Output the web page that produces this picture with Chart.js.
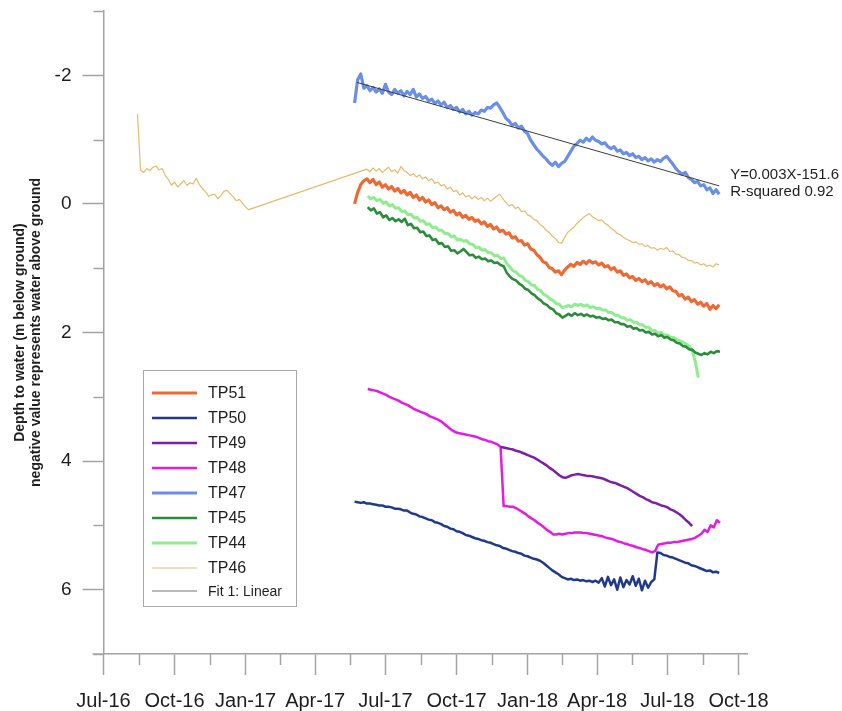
<!DOCTYPE html>
<html>
<head>
<meta charset="utf-8">
<title>Depth to water</title>
<script src="https://cdn.jsdelivr.net/npm/chart.js@4.4.1/dist/chart.umd.min.js"></script>
<style>
  html, body { margin: 0; padding: 0; background: #ffffff; }
  canvas { display: block; }
</style>
</head>
<body>
<canvas id="chart" width="842" height="711"></canvas>
<script>
// ---- data -----------------------------------------------------------------
// Logger readings, one value every SAMPLE_STEP_DAYS days from each start date.
// Depth to water in metres below ground (negative = above ground).
const SAMPLE_STEP_DAYS = 4;

const tp51Start = '2017-05-22';
const tp51Values = [
  0.00,-0.18,-0.30,-0.36,-0.39,-0.33,-0.38,-0.30,-0.34,-0.26,
  -0.30,-0.23,-0.27,-0.20,-0.24,-0.17,-0.21,-0.14,-0.18,-0.10,
  -0.14,-0.06,-0.10,-0.03,-0.06,0.01,-0.02,0.06,0.03,0.09,
  0.06,0.13,0.10,0.17,0.14,0.21,0.18,0.24,0.21,0.27,
  0.25,0.31,0.28,0.35,0.32,0.39,0.36,0.43,0.41,0.47,
  0.45,0.53,0.51,0.58,0.57,0.64,0.62,0.70,0.72,0.79,
  0.83,0.90,0.92,0.99,1.01,1.06,1.04,1.10,1.03,0.98,
  0.94,0.97,0.91,0.94,0.89,0.93,0.88,0.92,0.90,0.95,
  0.92,0.98,0.96,1.02,0.99,1.06,1.04,1.11,1.09,1.15,
  1.13,1.19,1.16,1.21,1.18,1.24,1.21,1.27,1.24,1.29,
  1.26,1.32,1.29,1.35,1.36,1.43,1.41,1.48,1.45,1.52,
  1.49,1.56,1.53,1.59,1.55,1.64,1.58,1.63,1.57
];

const tp50Start = '2017-05-22';
const tp50Values = [
  4.63,4.64,4.65,4.64,4.66,4.66,4.67,4.68,4.69,4.69,
  4.71,4.71,4.72,4.74,4.74,4.75,4.77,4.77,4.80,4.82,
  4.83,4.86,4.87,4.89,4.91,4.92,4.95,4.96,4.98,5.01,
  5.02,5.05,5.06,5.09,5.10,5.12,5.15,5.16,5.18,5.20,
  5.21,5.23,5.24,5.26,5.27,5.29,5.31,5.32,5.35,5.36,
  5.38,5.40,5.41,5.43,5.44,5.47,5.48,5.50,5.52,5.53,
  5.55,5.58,5.62,5.66,5.70,5.73,5.76,5.80,5.82,5.84,
  5.83,5.85,5.84,5.86,5.85,5.87,5.86,5.88,5.86,5.89,
  5.82,5.95,5.80,5.93,5.84,6.00,5.81,5.96,5.85,5.92,
  5.79,5.94,5.83,6.01,5.86,5.97,5.88,5.84,5.42,5.43,
  5.46,5.47,5.49,5.50,5.52,5.54,5.56,5.58,5.59,5.62,
  5.63,5.65,5.67,5.69,5.71,5.70,5.73,5.72,5.74
];

const tp49Start = '2017-11-27';
const tp49Values = [
  3.78,3.79,3.80,3.81,3.82,3.84,3.85,3.87,3.89,3.91,
  3.93,3.95,3.98,4.01,4.04,4.07,4.11,4.14,4.18,4.22,
  4.25,4.26,4.24,4.22,4.21,4.20,4.21,4.22,4.23,4.23,
  4.24,4.25,4.26,4.27,4.29,4.31,4.33,4.34,4.36,4.38,
  4.40,4.42,4.45,4.48,4.51,4.54,4.56,4.59,4.61,4.64,
  4.65,4.67,4.69,4.70,4.72,4.75,4.77,4.80,4.83,4.87,
  4.92,4.96,5.01
];

const tp48Start = '2017-06-08';
const tp48Values = [
  2.88,2.89,2.90,2.91,2.93,2.95,2.97,3.00,3.02,3.04,
  3.06,3.09,3.11,3.13,3.16,3.19,3.21,3.23,3.25,3.27,
  3.30,3.32,3.34,3.36,3.39,3.43,3.47,3.51,3.54,3.56,
  3.57,3.58,3.59,3.60,3.61,3.62,3.64,3.66,3.67,3.69,
  3.70,3.72,3.74,3.78,4.70,4.70,4.71,4.71,4.73,4.76,
  4.79,4.82,4.86,4.89,4.92,4.96,4.99,5.03,5.07,5.10,
  5.14,5.14,5.13,5.14,5.13,5.12,5.12,5.11,5.11,5.11,
  5.12,5.12,5.13,5.14,5.15,5.16,5.17,5.19,5.20,5.21,
  5.23,5.25,5.26,5.28,5.29,5.31,5.32,5.34,5.35,5.37,
  5.38,5.40,5.42,5.40,5.30,5.29,5.28,5.27,5.27,5.26,
  5.26,5.25,5.24,5.23,5.22,5.21,5.19,5.16,5.13,5.07,
  5.10,5.00,5.03,4.92,4.96
];

const tp47Start = '2017-05-22';
const tp47Values = [
  -1.57,-1.93,-2.02,-1.80,-1.84,-1.76,-1.81,-1.74,-1.79,-1.72,
  -1.86,-1.74,-1.70,-1.78,-1.72,-1.76,-1.68,-1.75,-1.70,-1.78,
  -1.66,-1.71,-1.64,-1.67,-1.60,-1.63,-1.56,-1.60,-1.54,-1.58,
  -1.50,-1.53,-1.47,-1.50,-1.43,-1.47,-1.40,-1.44,-1.38,-1.42,
  -1.40,-1.46,-1.44,-1.50,-1.49,-1.54,-1.57,-1.50,-1.42,-1.33,
  -1.29,-1.22,-1.25,-1.18,-1.21,-1.13,-1.09,-0.99,-0.92,-0.85,
  -0.80,-0.74,-0.70,-0.64,-0.60,-0.65,-0.58,-0.63,-0.66,-0.74,
  -0.82,-0.90,-0.94,-0.99,-0.96,-1.02,-0.98,-1.04,-0.99,-0.97,
  -0.93,-0.95,-0.89,-0.86,-0.89,-0.82,-0.84,-0.78,-0.80,-0.75,
  -0.78,-0.72,-0.74,-0.69,-0.72,-0.67,-0.70,-0.65,-0.69,-0.66,
  -0.71,-0.74,-0.68,-0.62,-0.55,-0.50,-0.46,-0.49,-0.41,-0.38,
  -0.33,-0.35,-0.28,-0.30,-0.22,-0.25,-0.16,-0.22,-0.15
];

const tp45Start = '2017-06-08';
const tp45Values = [
  0.05,0.10,0.07,0.15,0.13,0.21,0.18,0.25,0.22,0.27,
  0.24,0.28,0.23,0.33,0.31,0.38,0.37,0.44,0.43,0.50,
  0.49,0.56,0.55,0.62,0.61,0.67,0.66,0.73,0.72,0.77,
  0.74,0.70,0.75,0.80,0.79,0.84,0.82,0.86,0.85,0.89,
  0.88,0.92,0.91,0.95,0.97,1.07,1.13,1.17,1.19,1.24,
  1.27,1.32,1.34,1.39,1.42,1.47,1.50,1.55,1.57,1.62,
  1.64,1.70,1.72,1.77,1.74,1.71,1.74,1.70,1.73,1.71,
  1.74,1.72,1.75,1.74,1.77,1.76,1.79,1.78,1.81,1.80,
  1.84,1.84,1.87,1.87,1.91,1.90,1.94,1.93,1.97,1.96,
  2.00,1.99,2.03,2.02,2.06,2.04,2.08,2.07,2.11,2.12,
  2.16,2.17,2.21,2.22,2.26,2.27,2.31,2.33,2.35,2.32,
  2.34,2.30,2.32,2.29,2.30
];

const tp44Start = '2017-06-08';
const tp44Values = [
  -0.12,-0.08,-0.10,-0.05,-0.07,-0.01,-0.03,0.03,0.01,0.07,
  0.06,0.12,0.11,0.17,0.16,0.22,0.21,0.27,0.26,0.32,
  0.31,0.37,0.36,0.41,0.41,0.46,0.46,0.51,0.50,0.56,
  0.55,0.58,0.57,0.62,0.63,0.68,0.67,0.72,0.71,0.76,
  0.76,0.81,0.80,0.85,0.84,0.93,0.98,1.04,1.06,1.11,
  1.13,1.19,1.21,1.26,1.27,1.33,1.35,1.41,1.43,1.48,
  1.50,1.55,1.56,1.61,1.60,1.58,1.60,1.56,1.58,1.56,
  1.59,1.57,1.61,1.60,1.63,1.62,1.65,1.65,1.69,1.69,
  1.73,1.73,1.77,1.77,1.81,1.80,1.84,1.84,1.88,1.88,
  1.92,1.92,1.97,1.97,2.01,2.00,2.04,2.04,2.07,2.08,
  2.11,2.13,2.15,2.18,2.21,2.27,2.45,2.70
];

// TP46 has two logging periods; the line simply joins them across the gap.
const tp46EarlyStart = '2016-08-14';
const tp46EarlyValues = [
  -1.40,-0.52,-0.49,-0.55,-0.52,-0.57,-0.59,-0.53,-0.55,-0.44,
  -0.38,-0.29,-0.34,-0.26,-0.31,-0.36,-0.29,-0.33,-0.31,-0.40,
  -0.30,-0.24,-0.19,-0.12,-0.14,-0.15,-0.08,-0.13,-0.20,-0.21,
  -0.16,-0.11,-0.05,-0.07,-0.01,0.05,0.09
];
const tp46LateStart = '2017-06-07';
const tp46LateValues = [
  -0.54,-0.50,-0.56,-0.51,-0.55,-0.49,-0.53,-0.57,-0.50,-0.53,
  -0.48,-0.58,-0.52,-0.49,-0.44,-0.47,-0.42,-0.45,-0.39,-0.42,
  -0.36,-0.39,-0.32,-0.34,-0.28,-0.30,-0.23,-0.26,-0.19,-0.21,
  -0.14,-0.17,-0.11,-0.13,-0.08,-0.12,-0.07,-0.10,-0.05,-0.09,
  -0.04,-0.08,-0.12,-0.15,-0.08,-0.02,0.03,0.01,0.07,0.05,
  0.12,0.11,0.17,0.19,0.24,0.26,0.32,0.35,0.41,0.44,
  0.50,0.54,0.60,0.61,0.52,0.44,0.40,0.36,0.30,0.26,
  0.21,0.18,0.15,0.20,0.23,0.26,0.25,0.30,0.33,0.38,
  0.41,0.46,0.48,0.52,0.55,0.57,0.60,0.59,0.63,0.62,
  0.66,0.65,0.69,0.68,0.72,0.69,0.71,0.68,0.74,0.73,
  0.78,0.79,0.83,0.84,0.88,0.88,0.92,0.91,0.95,0.93,
  0.97,0.95,0.98,0.93,0.95
];

// Linear fit through TP47 (end points of the fitted line)
const fitDates = ['2017-05-25', '2018-09-06'];
const fitValues = [-1.89, -0.28];
const fitEquation = 'Y=0.003X-151.6';
const fitRSquared = 'R-squared 0.92';

// Axis ticks
const xTickDates = ['2016-07-01','2016-10-01','2017-01-01','2017-04-01','2017-07-01',
                    '2017-10-01','2018-01-01','2018-04-01','2018-07-01','2018-10-01'];
const xTickLabels = ['Jul-16','Oct-16','Jan-17','Apr-17','Jul-17',
                     'Oct-17','Jan-18','Apr-18','Jul-18','Oct-18'];
const yTickValues = [-2, 0, 2, 4, 6];
const yMinorTickValues = [-3, -1, 1, 3, 5, 7];

// ---- helpers ----------------------------------------------------------------
const ORIGIN = Date.UTC(2016, 6, 1);
function dayOf(s) {
  const [y, m, d] = s.split('-').map(Number);
  return (Date.UTC(y, m - 1, d) - ORIGIN) / 86400000;
}
function toPoints(start, values) {
  const d0 = dayOf(start);
  return values.map((v, i) => ({ x: d0 + i * SAMPLE_STEP_DAYS, y: v }));
}

const FONT = "'Liberation Sans', Arial, Helvetica, sans-serif";
const AXIS_GREY = '#a3a3a3';
const TEXT = '#1e1e1e';

function series(label, points, color, width) {
  return {
    label, data: points, borderColor: color, backgroundColor: color,
    borderWidth: width, pointRadius: 0, tension: 0, fill: false,
    borderJoinStyle: 'round', borderCapStyle: 'butt'
  };
}

const datasets = [
  series('TP51', toPoints(tp51Start, tp51Values), '#ee6a35', 3.2),
  series('TP50', toPoints(tp50Start, tp50Values), '#1f3a8a', 2.5),
  series('TP49', toPoints(tp49Start, tp49Values), '#7a1fa6', 2.5),
  series('TP48', toPoints(tp48Start, tp48Values), '#e31be3', 2.5),
  series('TP47', toPoints(tp47Start, tp47Values), '#6b8fe6', 3.2),
  series('TP45', toPoints(tp45Start, tp45Values), '#2b8c3b', 2.6),
  series('TP44', toPoints(tp44Start, tp44Values), '#8fec8f', 3.0),
  series('TP46', toPoints(tp46EarlyStart, tp46EarlyValues)
                   .concat(toPoints(tp46LateStart, tp46LateValues)), '#e8b96e', 1.2),
  Object.assign(series('Fit 1: Linear',
    fitDates.map((d, i) => ({ x: dayOf(d), y: fitValues[i] })), '#3c3c3c', 1), { order: -1 })
];

// Minor ticks, the short stub of the date axis left of the depth axis,
// and the fit annotation.
const axisDecor = {
  id: 'axisDecor',
  afterDraw(chart) {
    const { ctx, chartArea: ca } = chart;
    const xs = chart.scales.x, ys = chart.scales.y;
    ctx.save();
    ctx.strokeStyle = AXIS_GREY;
    ctx.lineWidth = 1.5;
    ctx.beginPath();
    for (let i = 0; i < xTickDates.length - 1; i++) {
      const mid = (dayOf(xTickDates[i]) + dayOf(xTickDates[i + 1])) / 2;
      const px = Math.round(xs.getPixelForValue(mid)) + 0.5;
      ctx.moveTo(px, ca.bottom); ctx.lineTo(px, ca.bottom + 11);
    }
    yMinorTickValues.forEach(v => {
      const py = Math.round(ys.getPixelForValue(v)) + 0.5;
      ctx.moveTo(ca.left - 10, py); ctx.lineTo(ca.left, py);
    });
    ctx.moveTo(ca.left - 11, ca.bottom); ctx.lineTo(ca.left, ca.bottom);
    ctx.stroke();

    // fit equation next to the end of the fitted line
    const ex = xs.getPixelForValue(dayOf(fitDates[1]));
    const ey = ys.getPixelForValue(fitValues[1]);
    ctx.fillStyle = TEXT;
    ctx.font = '15px ' + FONT;
    ctx.textAlign = 'left';
    ctx.textBaseline = 'middle';
    ctx.fillText(fitEquation, ex + 11, ey - 11);
    ctx.fillText(fitRSquared, ex + 11, ey + 6);
    ctx.restore();
  }
};

// Boxed legend inside the plot area
const boxLegend = {
  id: 'boxLegend',
  afterDraw(chart) {
    const { ctx } = chart;
    const box = { x: 143.5, y: 370.5, w: 153, h: 236 };
    ctx.save();
    ctx.fillStyle = '#ffffff';
    ctx.fillRect(box.x, box.y, box.w, box.h);
    ctx.strokeStyle = '#a8a8a8';
    ctx.lineWidth = 1;
    ctx.strokeRect(box.x, box.y, box.w, box.h);
    const rows = [393, 418, 443, 468, 493, 518, 543, 568, 591];
    chart.data.datasets.forEach((ds, i) => {
      const y = rows[i];
      const isFit = i === chart.data.datasets.length - 1;
      ctx.strokeStyle = isFit ? '#777777' : ds.borderColor;
      ctx.lineWidth = isFit ? 1.2 : Math.min(ds.borderWidth, 3);
      ctx.beginPath();
      ctx.moveTo(152, y); ctx.lineTo(197, y);
      ctx.stroke();
      ctx.fillStyle = TEXT;
      ctx.font = (isFit ? '14px ' : '16px ') + FONT;
      ctx.textAlign = 'left';
      ctx.textBaseline = 'middle';
      ctx.fillText(ds.label, 208, y + 1);
    });
    ctx.restore();
  }
};

new Chart(document.getElementById('chart'), {
  type: 'line',
  data: { datasets },
  plugins: [axisDecor, boxLegend],
  options: {
    responsive: false,
    animation: false,
    layout: { padding: { left: 0, right: 95, top: 11, bottom: 0 } },
    plugins: { legend: { display: false }, tooltip: { enabled: false } },
    scales: {
      x: {
        type: 'linear',
        min: dayOf('2016-07-01'),
        max: dayOf('2018-10-12'),
        afterBuildTicks: s => { s.ticks = xTickDates.map(d => ({ value: dayOf(d) })); },
        afterFit: s => { s.height = 57; s.paddingLeft = 0; s.paddingRight = 0; },
        ticks: {
          autoSkip: false, maxRotation: 0, minRotation: 0,
          font: { family: FONT, size: 20 }, color: TEXT, padding: 14,
          callback: (v, i) => xTickLabels[i]
        },
        grid: { drawOnChartArea: false, drawTicks: true, tickLength: 21, tickColor: AXIS_GREY, tickWidth: 1.5 },
        border: { color: AXIS_GREY, width: 1.5 }
      },
      y: {
        type: 'linear',
        reverse: true,
        min: -3,
        max: 7,
        afterBuildTicks: s => { s.ticks = yTickValues.map(v => ({ value: v })); },
        afterFit: s => { s.width = 103.5; s.paddingTop = 0; s.paddingBottom = 0; },
        ticks: {
          font: { family: FONT, size: 19 }, color: TEXT, padding: 11,
          callback: v => String(v)
        },
        title: {
          display: true,
          text: ['Depth to water (m below ground)', 'negative value represents water above ground'],
          font: { family: FONT, size: 14, weight: 'bold', lineHeight: 1.15 },
          color: TEXT,
          padding: { top: 12, bottom: 0 }
        },
        grid: { drawOnChartArea: false, drawTicks: true, tickLength: 21, tickColor: AXIS_GREY, tickWidth: 1.5 },
        border: { color: AXIS_GREY, width: 1.5 }
      }
    }
  }
});
</script>
</body>
</html>
